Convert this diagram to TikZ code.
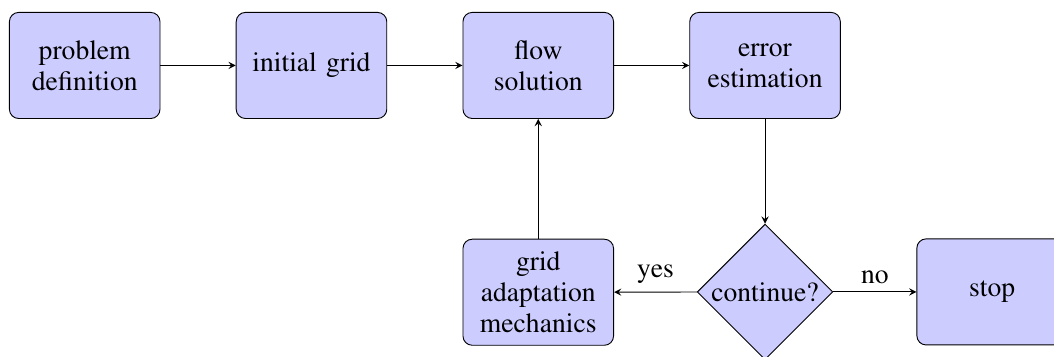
\documentclass[tikz,border=0pt]{standalone}
\usepackage[T1]{fontenc}
\usepackage{mathptmx}
\usepackage{tikz}
\usetikzlibrary{shapes.geometric, arrows, positioning, calc}
\definecolor{boxcolor}{RGB}{204, 204, 255}

\begin{document}
\begin{tikzpicture}[
    node distance=1.15cm,
    every node/.style={font=\fontsize{12}{13.5}\selectfont},
    box/.style={draw, rounded corners, fill=boxcolor, minimum width=2.3cm, minimum height=1.62cm, text width=1.85cm, align=center},
    decision/.style={draw, diamond, aspect=1, fill=boxcolor, inner sep=1pt},
    arrow/.style={->, >=stealth}
]
    \node[box] (problem) {problem definition};
    \node[box, right=of problem] (initgrid) {initial grid};
    \node[box, right=of initgrid] (flow) {flow solution};
    \node[box, right=of flow] (error) {error estimation};
    \node[box, below=1.83cm of flow] (adapt) {grid adaptation mechanics};
    \node[decision, below=1.6cm of error] (continue) {continue?};
    \node[box, right=1.27cm of continue] (stop) {stop};

    \pgfresetboundingbox
    \useasboundingbox ($(problem.north west)+(-0.137,0.183)$) rectangle ++(16.1,-5.44);

    \draw[arrow] (problem) -- (initgrid);
    \draw[arrow] (initgrid) -- (flow);
    \draw[arrow] (flow) -- (error);
    \draw[arrow] (error) -- (continue);
    \draw[arrow] (continue) -- node[above] {yes} (adapt);
    \draw[arrow] (continue) -- node[above] {no} (stop);
    \draw[arrow] (adapt) -- (flow);
\end{tikzpicture}
\end{document}
